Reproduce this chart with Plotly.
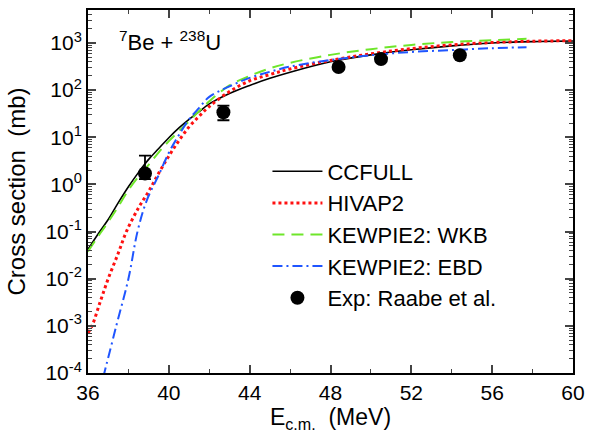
import plotly.graph_objects as go

# ---------------- data ----------------
E_ccfull = [36, 36.5, 37, 37.5, 38, 38.5, 39, 39.5, 40, 40.5, 41, 41.5, 42, 43, 44, 45, 46, 48, 50, 52, 54, 56, 58, 60]
sig_ccfull = [0.042, 0.089, 0.18, 0.41, 0.89, 1.8, 3.4, 5.8, 9.8, 15.8, 24, 35, 51, 85, 126, 178, 240, 400, 560, 720, 870, 1000, 1070, 1100]

E_hivap = [36, 36.2, 36.6, 37.0, 37.5, 37.9, 38.5, 39, 39.5, 40, 40.5, 41, 41.5, 42, 43, 44, 45, 46, 48, 50, 52, 54, 56, 58, 60]
sig_hivap = [7.1e-4, 1e-3, 3.2e-3, 0.01, 0.035, 0.1, 0.32, 0.71, 1.74, 4.0, 8.5, 16.6, 28, 45, 93, 158, 214, 282, 427, 589, 759, 912, 1023, 1090, 1120]

E_wkb = [36, 36.5, 37, 37.5, 38, 38.5, 39, 39.5, 40, 40.5, 41, 41.5, 42, 43, 44, 45, 46, 48, 50, 52, 54, 56, 57.7]
sig_wkb = [0.038, 0.079, 0.16, 0.34, 0.76, 1.48, 2.6, 4.8, 8.3, 13.5, 21.9, 36, 58, 126, 200, 290, 380, 560, 740, 910, 1050, 1150, 1230]

E_ebd = [36.75, 37.4, 38.0, 38.45, 38.9, 39.5, 40, 40.5, 41, 41.5, 42, 43, 44, 45, 46, 48, 50, 52, 54, 56, 57.7]
sig_ebd = [8e-5, 1e-3, 1e-2, 0.1, 0.45, 1.58, 4.7, 11.2, 24, 42, 72, 120, 182, 245, 316, 437, 550, 646, 708, 776, 813]

E_exp = [38.82, 42.7, 48.4, 50.5, 54.4]
sig_exp = [1.7, 34, 310, 455, 550]
err_up = [2.4, 13, 0, 0, 0]
err_dn = [0.4, 11, 0, 0, 0]

y_tickvals = [1e-4, 1e-3, 1e-2, 1e-1, 1e0, 1e1, 1e2, 1e3]
y_ticktext = ["10<sup>-4</sup>", "10<sup>-3</sup>", "10<sup>-2</sup>", "10<sup>-1</sup>",
              "10<sup>0</sup>", "10<sup>1</sup>", "10<sup>2</sup>", "10<sup>3</sup>"]
x_tickvals = [36, 40, 44, 48, 52, 56, 60]

FONT = "Liberation Sans, Arial, sans-serif"

fig = go.Figure()
fig.add_trace(go.Scatter(x=E_ccfull, y=sig_ccfull, mode="lines", name="CCFULL",
                         line=dict(color="black", width=1.6, shape="spline")))
fig.add_trace(go.Scatter(x=E_hivap, y=sig_hivap, mode="lines", name="HIVAP2",
                         line=dict(color="#ff1010", width=3, dash="3px,3px", shape="spline")))
fig.add_trace(go.Scatter(x=E_wkb, y=sig_wkb, mode="lines", name="KEWPIE2: WKB",
                         line=dict(color="#6ee62a", width=2, dash="12px,7px", shape="spline")))
fig.add_trace(go.Scatter(x=E_ebd, y=sig_ebd, mode="lines", name="KEWPIE2: EBD",
                         line=dict(color="#1f55ff", width=2, dash="10px,4px,2px,4px", shape="spline")))
fig.add_trace(go.Scatter(x=E_exp, y=sig_exp, mode="markers", name="Exp: Raabe et al.",
                         marker=dict(color="black", size=14),
                         error_y=dict(type="data", array=err_up, arrayminus=err_dn,
                                      color="black", thickness=1.8, width=6)))

fig.add_annotation(x=0.06, y=0.915, xref="paper", yref="paper", xanchor="left", yanchor="middle",
                   text="<sup>7</sup>Be + <sup>238</sup>U", showarrow=False,
                   font=dict(family=FONT, size=22, color="black"))

fig.update_layout(
    width=589, height=433,
    margin=dict(l=88, r=16, t=10, b=60),
    paper_bgcolor="white", plot_bgcolor="white",
    font=dict(family=FONT, color="black"),
    showlegend=True,
    legend=dict(x=0.37, y=0.613, xanchor="left", yanchor="top",
                bgcolor="rgba(0,0,0,0)", font=dict(family=FONT, size=22),
                itemwidth=50, tracegroupgap=0),
)
fig.update_xaxes(range=[36, 60], tickvals=x_tickvals, ticks="inside", ticklen=8, tickwidth=1.5,
                 showline=True, linecolor="black", linewidth=2, mirror="ticks",
                 showgrid=False, zeroline=False, automargin=False,
                 tickfont=dict(family=FONT, size=21),
                 minor=dict(dtick=2, tick0=36, ticks="inside", ticklen=4, tickwidth=1.2, showgrid=False),
                 title=dict(text="E<sub>c.m.</sub>  (MeV)", font=dict(family=FONT, size=23), standoff=2))
fig.update_yaxes(type="log", range=[-4, 3.7], tickvals=y_tickvals, ticktext=y_ticktext,
                 ticks="inside", ticklen=8, tickwidth=1.5,
                 showline=True, linecolor="black", linewidth=2, mirror="ticks",
                 showgrid=False, zeroline=False, automargin=False,
                 tickfont=dict(family=FONT, size=21),
                 minor=dict(dtick="D1", ticks="inside", ticklen=4, tickwidth=1, showgrid=False),
                 title=dict(text="Cross section  (mb)", font=dict(family=FONT, size=24), standoff=13))

fig.write_html("out.html", config={"displayModeBar": False},
               post_script="document.body.style.margin='0px';document.body.style.overflow='hidden';")
